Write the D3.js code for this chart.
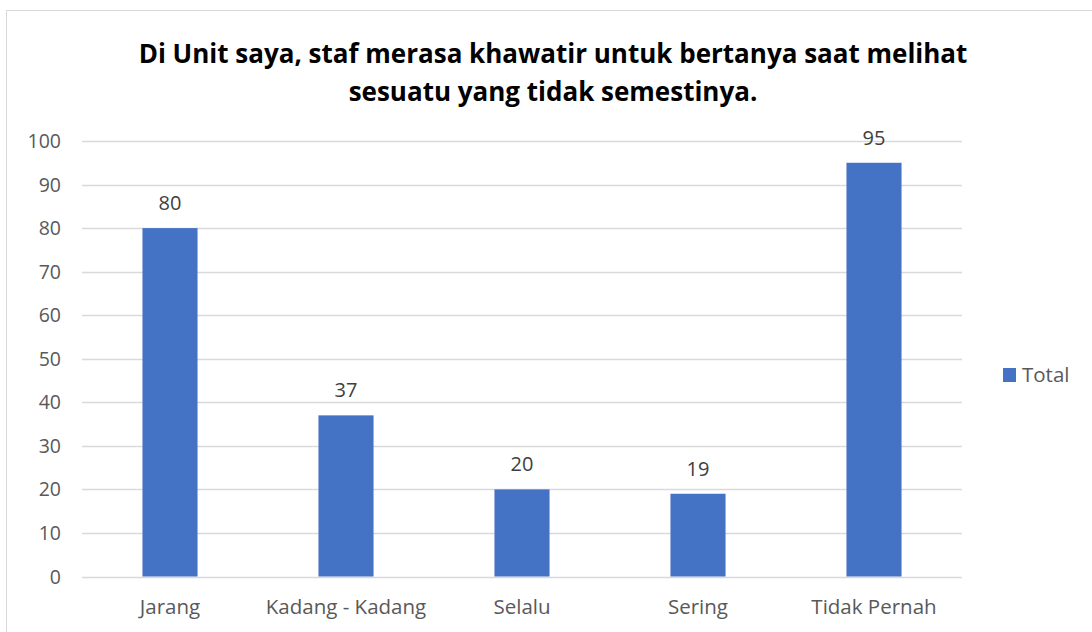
<!DOCTYPE html>
<html>
<head>
<meta charset="utf-8">
<script src="https://d3js.org/d3.v7.min.js"></script>
<style>
  body { margin: 0; background: #fff; }
  text { font-family: "Open Sans", sans-serif; }
</style>
</head>
<body>
<div id="chart"></div>
<script>
var categories = ["Jarang", "Kadang - Kadang", "Selalu", "Sering", "Tidak Pernah"];
var totals = [80, 37, 20, 19, 95];
var yTicks = [0, 10, 20, 30, 40, 50, 60, 70, 80, 90, 100];
var titleLines = ["Di Unit saya, staf merasa khawatir untuk bertanya saat melihat",
                  "sesuatu yang tidak semestinya."];
var seriesName = "Total";

var width = 1092, height = 632;
var barColor = "#4472c4";

var svg = d3.select("#chart").append("svg")
    .attr("width", width)
    .attr("height", height);

// chart frame
svg.append("rect")
    .attr("x", 6.5).attr("y", 10.5)
    .attr("width", 1100).attr("height", 700)
    .attr("fill", "#fff")
    .attr("stroke", "#d9d9d9");

var x = d3.scaleBand()
    .domain(categories)
    .range([82, 962])
    .paddingInner(0.687)
    .paddingOuter(0.3435);

var y = d3.scaleLinear()
    .domain([0, 100])
    .range([576.5, 141]);

// gridlines
svg.append("g").selectAll("line")
    .data(yTicks)
    .enter().append("line")
    .attr("x1", 82).attr("x2", 962)
    .attr("y1", function (d) { return Math.round(y(d)) + 0.5; })
    .attr("y2", function (d) { return Math.round(y(d)) + 0.5; })
    .attr("stroke", "#d9d9d9")
    .attr("stroke-width", 1.3);

// y tick labels
svg.append("g").selectAll("text")
    .data(yTicks)
    .enter().append("text")
    .attr("x", 61)
    .attr("y", function (d) { return y(d) + 7; })
    .attr("text-anchor", "end")
    .attr("font-size", 19.5)
    .attr("fill", "#595959")
    .text(function (d) { return d; });

// bars
svg.append("g").selectAll("rect")
    .data(totals)
    .enter().append("rect")
    .attr("x", function (d, i) { return x(categories[i]); })
    .attr("y", function (d) { return y(d); })
    .attr("width", x.bandwidth())
    .attr("height", function (d) { return y(0) - y(d); })
    .attr("fill", barColor);

// value labels
svg.append("g").selectAll("text")
    .data(totals)
    .enter().append("text")
    .attr("x", function (d, i) { return x(categories[i]) + x.bandwidth() / 2; })
    .attr("y", function (d) { return y(d) - 18; })
    .attr("text-anchor", "middle")
    .attr("font-size", 20)
    .attr("fill", "#404040")
    .text(function (d) { return d; });

// category labels
svg.append("g").selectAll("text")
    .data(categories)
    .enter().append("text")
    .attr("x", function (d) { return x(d) + x.bandwidth() / 2; })
    .attr("y", 614)
    .attr("text-anchor", "middle")
    .attr("font-size", 20.5)
    .attr("fill", "#595959")
    .text(function (d) { return d; });

// title
svg.append("g").selectAll("text")
    .data(titleLines)
    .enter().append("text")
    .attr("x", 553)
    .attr("y", function (d, i) { return 63 + i * 38; })
    .attr("text-anchor", "middle")
    .attr("font-size", 26)
    .attr("font-weight", "bold")
    .attr("fill", "#000")
    .text(function (d) { return d; });

// legend
var legend = svg.append("g");
legend.append("rect")
    .attr("x", 1003).attr("y", 368)
    .attr("width", 13).attr("height", 14)
    .attr("fill", barColor);
legend.append("text")
    .attr("x", 1022).attr("y", 382)
    .attr("font-size", 20.5)
    .attr("fill", "#595959")
    .text(seriesName);
</script>
</body>
</html>
